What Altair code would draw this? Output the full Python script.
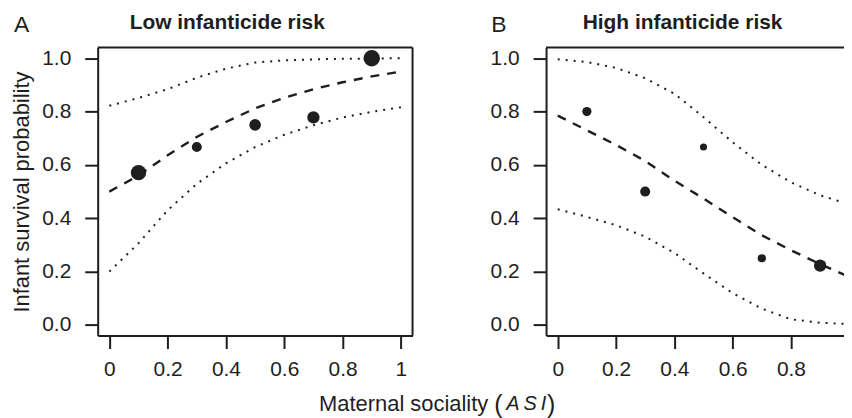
import altair as alt
import pandas as pd

# ---- data ----
xs = [0.0, 0.1, 0.2, 0.3, 0.4, 0.5, 0.6, 0.7, 0.8, 0.9, 1.0]
low_fit = [0.500, 0.560, 0.636, 0.705, 0.761, 0.812, 0.852, 0.884, 0.910, 0.932, 0.950]
low_hi = [0.822, 0.851, 0.884, 0.927, 0.961, 0.984, 0.992, 0.996, 0.998, 0.999, 1.000]
low_lo = [0.200, 0.306, 0.430, 0.529, 0.606, 0.667, 0.713, 0.749, 0.778, 0.799, 0.816]
high_fit = [0.785, 0.730, 0.675, 0.615, 0.541, 0.474, 0.404, 0.336, 0.280, 0.228, 0.180]
high_hi = [0.996, 0.986, 0.964, 0.925, 0.867, 0.779, 0.685, 0.600, 0.535, 0.486, 0.452]
high_lo = [0.434, 0.405, 0.374, 0.331, 0.270, 0.193, 0.119, 0.061, 0.021, 0.008, 0.003]

obs_x = [0.1, 0.3, 0.5, 0.7, 0.9]
low_obs = [0.571, 0.667, 0.750, 0.778, 1.000]
low_n = [14, 6, 8, 9, 16]
high_obs = [0.800, 0.500, 0.667, 0.250, 0.222]
high_n = [5, 6, 3, 4, 9]

x_ticks = [0, 0.2, 0.4, 0.6, 0.8, 1]
y_ticks = [0.0, 0.2, 0.4, 0.6, 0.8, 1.0]
panel_letters = ["A", "B"]
panel_titles = ["Low infanticide risk", "High infanticide risk"]
y_title = "Infant survival probability"
x_title_parts = ["Maternal sociality", "(", "A\u2009S\u2009I", ")"]

INK = "#1e1e1e"
FONT = "Liberation Sans"
W = 316
H = 289


def panel(fit, lo, hi, obs, n, letter, letter_x, title, title_x, ytitle, right_border):
    curves = pd.DataFrame({"x": xs, "fit": fit, "lo": lo, "hi": hi})
    pts = pd.DataFrame({"x": obs_x, "y": obs, "n": n})
    xsc = alt.Scale(domain=[-0.04, 1.04], nice=False, zero=False)
    ysc = alt.Scale(domain=[-0.04, 1.04], nice=False, zero=False)
    xax = alt.Axis(
        values=x_ticks, title=None, grid=False, labelFlush=False,
        labelExpr="datum.value == 0 ? '0' : datum.value == 1 ? '1' : format(datum.value, '.1f')",
        tickSize=13, labelPadding=10,
    )
    yax_kw = dict(values=y_ticks, format=".1f", grid=False, tickSize=13, labelPadding=14)
    if ytitle:
        yax = alt.Axis(title=ytitle, titlePadding=14, minExtent=50, maxExtent=50, **yax_kw)
    else:
        yax = alt.Axis(title=None, **yax_kw)
    yt = ytitle if ytitle else None

    def X():
        return alt.X("x:Q", scale=xsc, axis=xax, title=None)

    def Y(f):
        return alt.Y(f, scale=ysc, axis=yax, title=yt)

    base = alt.Chart(curves)
    fit_line = base.mark_line(color=INK, strokeWidth=2.4, strokeDash=[9, 8]).encode(
        x=X(), y=Y("fit:Q"))
    lo_line = base.mark_line(color=INK, strokeWidth=2, strokeDash=[2, 6]).encode(
        x=X(), y=Y("lo:Q"))
    hi_line = base.mark_line(color=INK, strokeWidth=2, strokeDash=[2, 6]).encode(
        x=X(), y=Y("hi:Q"))
    points = alt.Chart(pts).mark_circle(color=INK, opacity=1).encode(
        x=X(), y=Y("y:Q"),
        size=alt.Size("n:Q", scale=alt.Scale(domain=[0, 16], range=[0, 272], zero=True), legend=None),
    )
    lab = pd.DataFrame({"t": [letter]})
    letter_txt = alt.Chart(lab).mark_text(
        font=FONT, fontSize=23, color=INK, align="left", baseline="alphabetic"
    ).encode(text="t:N", x=alt.value(letter_x), y=alt.value(-16))
    tt = pd.DataFrame({"t": [title]})
    title_txt = alt.Chart(tt).mark_text(
        font=FONT, fontSize=21, fontWeight="bold", color=INK, align="center", baseline="alphabetic"
    ).encode(text="t:N", x=alt.value(title_x), y=alt.value(-19))
    top_rule = alt.Chart(lab).mark_rule(color=INK, strokeWidth=2).encode(
        x=alt.value(0), x2=alt.value(W), y=alt.value(0)
    )
    layers = [hi_line, lo_line, fit_line, points, top_rule, letter_txt, title_txt]
    if right_border:
        right_rule = alt.Chart(lab).mark_rule(color=INK, strokeWidth=2).encode(
            x=alt.value(W), y=alt.value(0), y2=alt.value(H)
        )
        layers.append(right_rule)
    return alt.layer(*layers).properties(width=W, height=H)


pA = panel(low_fit, low_lo, low_hi, low_obs, low_n,
           panel_letters[0], -84, panel_titles[0], 130, y_title, True)
pB = panel(high_fit, high_lo, high_hi, high_obs, high_n,
           panel_letters[1], -55, panel_titles[1], 137, None, False)

top_row = alt.hconcat(pA, pB, spacing=76)

# x-axis title, positioned relative to panel A's plot origin
p1 = alt.Chart(pd.DataFrame({"t": [x_title_parts[0]]})).mark_text(
    font=FONT, fontSize=22, color=INK, align="right").encode(
    text="t:N", x=alt.value(392), y=alt.value(25))
p2 = alt.Chart(pd.DataFrame({"t": [x_title_parts[1]]})).mark_text(
    font=FONT, fontSize=25, color=INK, align="left").encode(
    text="t:N", x=alt.value(398), y=alt.value(26))
p3 = alt.Chart(pd.DataFrame({"t": [x_title_parts[2]]})).mark_text(
    font=FONT, fontSize=20, fontStyle="italic", color=INK, align="left").encode(
    text="t:N", x=alt.value(410), y=alt.value(25))
p4 = alt.Chart(pd.DataFrame({"t": [x_title_parts[3]]})).mark_text(
    font=FONT, fontSize=25, color=INK, align="left").encode(
    text="t:N", x=alt.value(451), y=alt.value(26))
bottom = alt.layer(p1, p2, p3, p4).properties(width=300, height=30)

# panel B runs past the right edge of the figure, as in the original crop
chart = alt.vconcat(top_row, bottom, spacing=0).properties(
    padding={"left": 2, "top": 3, "right": -18, "bottom": 0},
).configure_view(stroke=None).configure_axis(
    labelFont=FONT, titleFont=FONT, labelFontSize=21, titleFontSize=22,
    titleFontWeight="normal", labelColor=INK, titleColor=INK,
    domainColor=INK, domainWidth=2, tickColor=INK, tickWidth=2,
)

chart.save("out.html", embed_options={"renderer": "svg", "actions": False})
